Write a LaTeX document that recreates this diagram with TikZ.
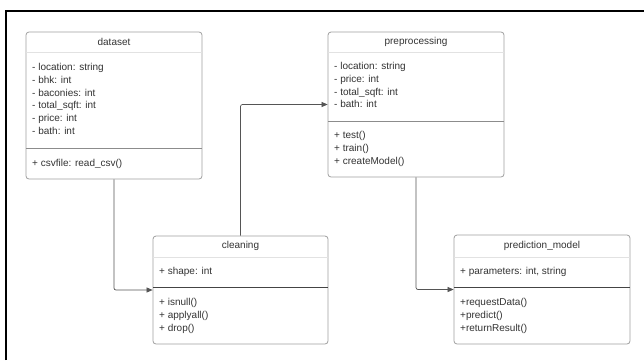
\documentclass[tikz,border=0pt]{standalone}
\usepackage{fontspec}
\setmainfont{Liberation Sans}
\usetikzlibrary{arrows.meta}
\definecolor{txt}{HTML}{333333}
\definecolor{boxline}{HTML}{A0A0A0}
\definecolor{hdrline}{HTML}{E2E2E2}
\definecolor{divline}{HTML}{8C8C8C}
\definecolor{divdark}{HTML}{444444}
\definecolor{conncol}{HTML}{555555}
\tikzset{
  classbox/.style={draw=boxline, line width=0.8pt, rounded corners=3pt, fill=white, inner sep=0pt},
  ctext/.style={anchor=base west, inner sep=0pt, font=\fontsize{10}{12}\selectfont, text=txt},
  ctitle/.style={anchor=center, inner sep=0pt, font=\fontsize{10}{12}\selectfont, text=txt},
  hdiv/.style={draw=hdrline, line width=0.8pt},
  sdiv/.style={draw=divline, line width=0.9pt},
  sdivdark/.style={draw=divdark, line width=0.8pt},
  conn/.style={draw=conncol, line width=0.7pt, rounded corners=2pt, -{Triangle[length=6pt,width=5pt]}},
}
\begin{document}
\begin{tikzpicture}[x=1pt,y=-1pt]
\useasboundingbox (0,0) rectangle (644,360);
\fill[white] (0,0) rectangle (644,360);
% outer frame
\draw[black, line width=2pt] (6,360) -- (6,11) -- (644,11);

% dataset
\node[classbox, minimum width=176pt, minimum height=147pt] (dataset) at (114,105.5) {};
\draw[hdiv] (26,52) -- (202,52);
\draw[sdiv] (26,148) -- (202,148);
\node[ctitle] (dst) at (114,42) {dataset};
\node[ctext] (da1) at (32,70.5) {- location: string};
\node[ctext] (da2) at (32,83.3) {- bhk: int};
\node[ctext] (da3) at (32,96.1) {- baconies: int};
\node[ctext] (da4) at (32,108.9) {- total\_sqft: int};
\node[ctext] (da5) at (32,121.7) {- price: int};
\node[ctext] (da6) at (32,134.5) {- bath: int};
\node[ctext] (dm1) at (32,166.5) {+ csvfile: read\_csv()};

% preprocessing
\node[classbox, minimum width=176pt, minimum height=145pt] (preprocessing) at (416,104.5) {};
\draw[hdiv] (328,52) -- (504,52);
\draw[sdiv] (328,121) -- (504,121);
\node[ctitle] (pst) at (416,42) {preprocessing};
\node[ctext] (pa1) at (334,69.5) {- location: string};
\node[ctext] (pa2) at (334,82.3) {- price: int};
\node[ctext] (pa3) at (334,95.1) {- total\_sqft: int};
\node[ctext] (pa4) at (334,107.9) {- bath: int};
\node[ctext] (pm1) at (334,138.5) {+ test()};
\node[ctext] (pm2) at (334,151.3) {+ train()};
\node[ctext] (pm3) at (334,164.1) {+ createModel()};

% cleaning
\node[classbox, minimum width=175pt, minimum height=108pt] (cleaning) at (240.5,290) {};
\draw[hdiv] (153,257) -- (328,257);
\draw[sdivdark] (153,287) -- (328,287);
\node[ctitle] (cst) at (240.5,246) {cleaning};
\node[ctext] (ca1) at (159,274.5) {+ shape: int};
\node[ctext] (cm1) at (159,305.5) {+ isnull()};
\node[ctext] (cm2) at (159,318.3) {+ applyall()};
\node[ctext] (cm3) at (159,331.1) {+ drop()};

% prediction_model
\node[classbox, minimum width=176pt, minimum height=109pt] (prediction) at (542,289.5) {};
\draw[hdiv] (454,257) -- (630,257);
\draw[sdivdark] (454,287) -- (630,287);
\node[ctitle] (mst) at (542,246) {prediction\_model};
\node[ctext] (ma1) at (460,274.5) {+ parameters: int, string};
\node[ctext] (mm1) at (460,305.5) {+requestData()};
\node[ctext] (mm2) at (460,318.3) {+predict()};
\node[ctext] (mm3) at (460,331.1) {+returnResult()};

% connectors
\draw[conn] (dataset.south) |- (cleaning.west);
\draw[conn] (cleaning.north) |- (preprocessing.west);
\draw[conn] (preprocessing.south) |- (prediction.west);
\end{tikzpicture}
\end{document}
